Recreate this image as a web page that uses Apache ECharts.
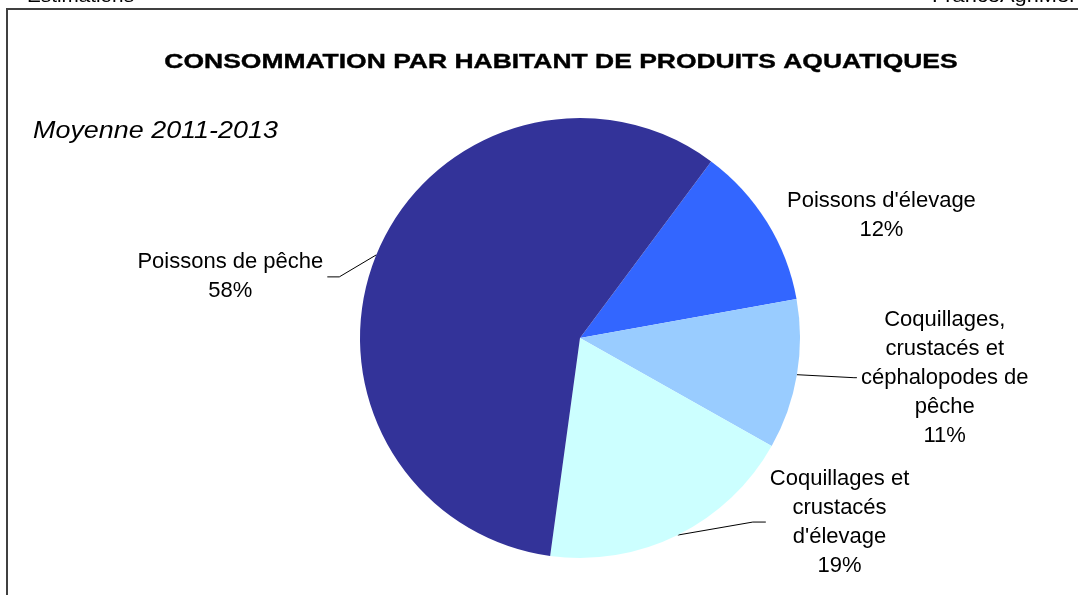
<!DOCTYPE html>
<html style="height: 100%">
<head>
    <meta charset="utf-8">
    <style type="text/css">
        .boxpie{width: 1078px;height:595px;}
    </style>
</head>
<body style="height: 100%; margin: 0; background: #fff">
<div class="boxpie" id="container"></div>
<script src="https://cdn.jsdelivr.net/npm/echarts@6/dist/echarts.min.js"></script>

<script type="text/javascript">
    // categories, clockwise from the top-right slice
    var categories = [
        "Poissons d'élevage",
        "Coquillages,\ncrustacés et\ncéphalopodes de\npêche",
        "Coquillages et\ncrustacés\nd'élevage",
        "Poissons de pêche"
    ];
    var shares = [12, 11, 19, 58];   // % of consumption, 2011-2013 average
    var colors = ['#3366FF', '#99CCFF', '#CCFFFF', '#333399'];
    // leader line shape from the slice anchor: [dx1, dy1, dx2, visible]
    var leader = [[0, -7, 16, false], [57, 3, 3, true], [75, -13, 13, true], [-37, 22, -12, true]];

    var dom = document.getElementById("container");
    var myPie = echarts.init(dom);

    var pieData = [];
    for (var i = 0; i < categories.length; i++) {
        pieData.push({
            name: categories[i],
            value: shares[i],
            itemStyle: {color: colors[i]},
            labelLine: {lineStyle: {opacity: leader[i][3] ? 1 : 0}}
        });
    }

    var font = 'Liberation Sans, Arial, sans-serif';

    option = {
        backgroundColor: '#ffffff',
        animation: false,
        graphic: [
            {
                type: 'rect',
                shape: {x: 7, y: 9, width: 1100, height: 620},
                style: {fill: 'none', stroke: '#404040', lineWidth: 2}
            },
            {
                // page header, cut off by the top of the picture
                type: 'text', x: 27, y: 6, scaleX: 1.15,
                style: {text: 'Estimations', font: '18px ' + font, fill: '#000',
                        textAlign: 'left', textVerticalAlign: 'bottom'}
            },
            {
                type: 'text', x: 932, y: 6, scaleX: 1.15,
                style: {text: 'FranceAgriMer', font: '19px ' + font, fill: '#000',
                        textAlign: 'left', textVerticalAlign: 'bottom'}
            },
            {
                // chart title (the original text is drawn a bit wide)
                type: 'text', x: 561, y: 62, scaleX: 1.26,
                style: {text: 'CONSOMMATION PAR HABITANT DE PRODUITS AQUATIQUES',
                        font: 'bold 21px ' + font, fill: '#000',
                        stroke: '#000', lineWidth: 0.4,
                        textAlign: 'center', textVerticalAlign: 'middle'}
            },
            {
                type: 'text', x: 33, y: 132, scaleX: 1.17,
                style: {text: 'Moyenne 2011-2013',
                        font: 'italic 23px ' + font, fill: '#000',
                        textAlign: 'left', textVerticalAlign: 'middle'}
            }
        ],
        series: [{
            type: 'pie',
            center: [580, 338],
            radius: 220,
            startAngle: 53.4,
            clockwise: true,
            avoidLabelOverlap: false,
            percentPrecision: 0,
            label: {
                show: true,
                position: 'outside',
                formatter: '{b}\n{d}%',
                fontFamily: font,
                fontSize: 22,
                lineHeight: 29,
                color: '#000'
            },
            labelLine: {
                show: true,
                length: 20,
                length2: 10,
                lineStyle: {color: '#000', width: 1}
            },
            labelLayout: function (params) {
                var lk = leader[params.dataIndex];
                var pts = params.labelLinePoints;
                if (!pts) return {};
                var p0 = pts[0];
                var p1 = [p0[0] + lk[0], p0[1] + lk[1]];
                var p2 = [p1[0] + lk[2], p1[1]];
                var side = lk[2] >= 0 ? 1 : -1;
                return {
                    x: p2[0] + side * (4 + params.labelRect.width / 2),
                    y: p2[1],
                    align: 'center',
                    verticalAlign: 'middle',
                    labelLinePoints: [p0, p1, p2]
                };
            },
            emphasis: {disabled: true},
            data: pieData
        }]
    };

    if (option && typeof option === "object") {
        myPie.setOption(option, true);
    }
</script>
</body>
</html>
